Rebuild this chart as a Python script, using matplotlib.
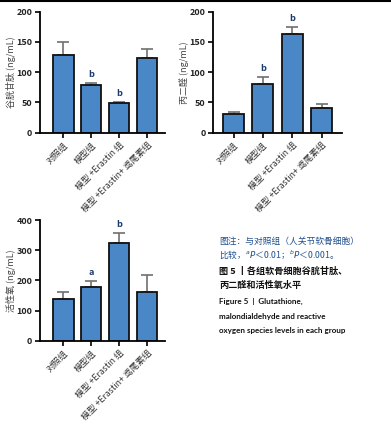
import matplotlib
matplotlib.use("Agg")
import matplotlib.pyplot as plt

plt.rcParams['font.family'] = ['Noto Sans CJK SC', 'DejaVu Sans']

groups = ['对照组', '模型组', '模型 +Erastin 组', '模型 +Erastin+ 鸢尾素组']

gsh = [128, 79, 49, 123]
gsh_err = [22, 3, 1, 15]
gsh_sig = ['', 'b', 'b', '']

mda = [31, 80, 163, 41]
mda_err = [3, 12, 11, 7]
mda_sig = ['', 'b', 'b', '']

ros = [139, 177, 323, 163]
ros_err = [22, 22, 33, 54]
ros_sig = ['', 'a', 'b', '']

bar_col = '#4a87c7'
err_col = '#707070'
txt_col = '#333333'


def panel(ax, vals, errs, sig, ylabel, ymax, step, xl, lab_x):
    x = list(range(len(vals)))
    ax.bar(x, vals, width=0.72, color=bar_col, edgecolor='#111111', linewidth=1.3, zorder=2)
    ax.errorbar(x, vals, yerr=[[0] * len(vals), errs], fmt='none', ecolor=err_col,
                elinewidth=1.2, capsize=4, capthick=1.2, zorder=1)
    for i, (v, e, s) in enumerate(zip(vals, errs, sig)):
        if s:
            ax.text(i, v + e + ymax * 0.035, s, ha='center', va='bottom',
                    fontsize=6.5, color='#1a3a6e', fontweight='bold')
    ax.set_ylim(0, ymax)
    ax.set_xlim(*xl)
    ax.set_yticks(range(0, ymax + 1, step))
    ax.set_xticks(x)
    ax.set_xticklabels(groups, rotation=45, ha='right', rotation_mode='anchor',
                       fontsize=6.3, color=txt_col)
    for lab in ax.get_yticklabels():
        lab.set_fontsize(6.5)
        lab.set_fontweight('bold')
        lab.set_color('#222222')
    ax.set_ylabel(ylabel, fontsize=6.5, color='#444444')
    ax.yaxis.set_label_coords(lab_x, 0.5)
    ax.spines['top'].set_visible(False)
    ax.spines['right'].set_visible(False)
    ax.spines['left'].set_linewidth(1.3)
    ax.spines['bottom'].set_linewidth(1.3)
    ax.tick_params(axis='both', width=1.2, length=3.5, pad=2)


fig = plt.figure(figsize=(3.91, 4.33), dpi=100)

ax1 = fig.add_axes([0.1023, 0.6935, 0.320, 0.2794])
panel(ax1, gsh, gsh_err, gsh_sig, '谷胱甘肽 (ng/mL)', 200, 50, (-0.84, 3.64), -0.19)

ax2 = fig.add_axes([0.5448, 0.6935, 0.330, 0.2794])
panel(ax2, mda, mda_err, mda_sig, '丙二醛 (ng/mL)', 200, 50, (-0.7, 3.7), -0.19)

ax3 = fig.add_axes([0.1023, 0.2125, 0.320, 0.2794])
panel(ax3, ros, ros_err, ros_sig, '活性氧 (ng/mL)', 400, 100, (-0.84, 3.64), -0.19)

# top rule
fig.add_artist(plt.Line2D([0, 1], [0.998, 0.998], color='black', linewidth=1.5))

# caption
cap_x = 219 / 391
blue = '#1f4f8f'
en = ['Lato', 'DejaVu Sans']
fig.text(cap_x, 1 - 241 / 433, '图注：与对照组（人关节软骨细胞）', fontsize=6.3, color=blue, va='center')
fig.text(cap_x, 1 - 255 / 433, '比较，$^{a}$$\\it{P}$＜0.01；$^{b}$$\\it{P}$＜0.001。', fontsize=6.3,
         color=blue, va='center')
fig.text(cap_x, 1 - 271 / 433, '图 5 丨各组软骨细胞谷胱甘肽、', fontsize=6.6, color='#111111',
         fontweight='bold', va='center')
fig.text(cap_x, 1 - 285 / 433, '丙二醛和活性氧水平', fontsize=6.6, color='#111111',
         fontweight='bold', va='center')
fig.text(cap_x, 1 - 301 / 433, 'Figure 5  |  Glutathione,', fontsize=5.8, color='#111111',
         fontweight='bold', va='center', family=en)
fig.text(cap_x, 1 - 316 / 433, 'malondialdehyde and reactive', fontsize=5.8, color='#111111',
         fontweight='bold', va='center', family=en)
fig.text(cap_x, 1 - 331 / 433, 'oxygen species levels in each group', fontsize=5.8, color='#111111',
         fontweight='bold', va='center', family=en)

fig.savefig('out.png', dpi=100)
